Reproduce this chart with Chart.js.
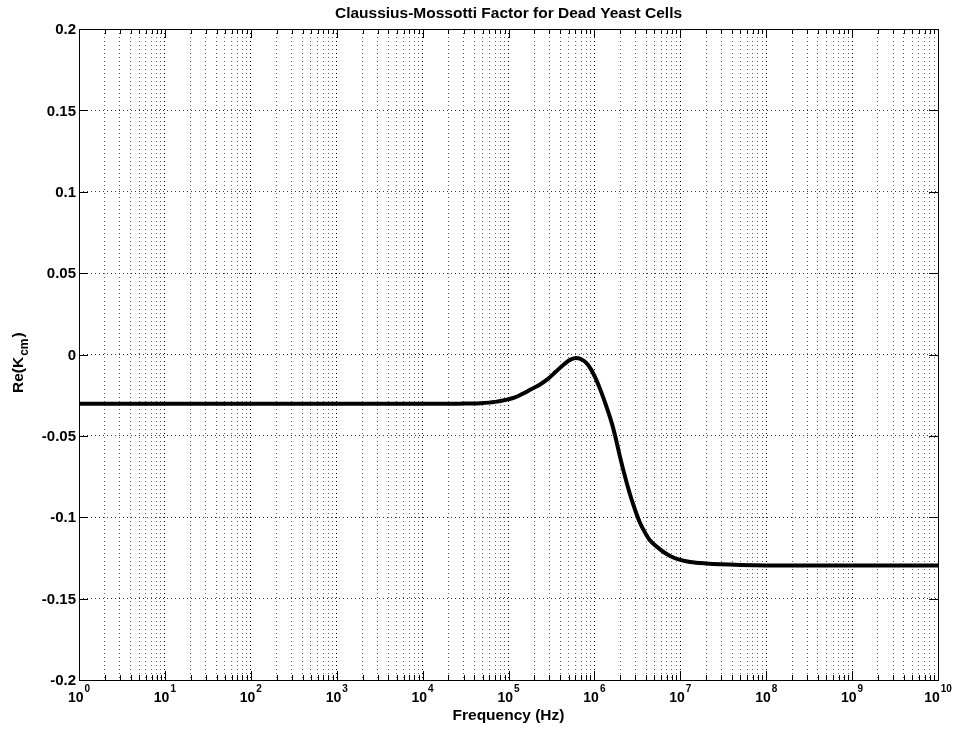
<!DOCTYPE html>
<html>
<head>
<meta charset="utf-8">
<script src="https://cdn.jsdelivr.net/npm/chart.js@4"></script>
<style>
  body { margin: 0; background: #fff; }
  canvas { display: block; }
</style>
</head>
<body>
<canvas id="cmChart" width="956" height="732"></canvas>
<script>
// 数据：频率 (Hz) 与 Re(Kcm)
const freqHz = [1, 1e3, 1e4, 2.7e4, 4.7e4, 7.0e4, 9.6e4, 1.19e5, 1.48e5, 1.88e5, 2.33e5, 2.88e5,
    3.57e5, 4.43e5, 5.34e5, 6.1e5, 7.0e5, 8.0e5, 9.1e5, 1.04e6, 1.19e6, 1.36e6, 1.6e6, 1.8e6,
    2.0e6, 2.3e6, 2.6e6, 3.0e6, 3.4e6, 3.9e6, 4.4e6, 5.8e6, 7.6e6, 1.0e7, 1.3e7, 2.0e7, 5e7,
    1e8, 1e9, 1e10];
const reKcm = [-0.0303, -0.0303, -0.0303, -0.0302, -0.0299, -0.0291, -0.0277, -0.0264, -0.0240,
    -0.0210, -0.0184, -0.0150, -0.0105, -0.0060, -0.0030, -0.0022, -0.0029, -0.0050, -0.0090,
    -0.0150, -0.0225, -0.0310, -0.0425, -0.0530, -0.0635, -0.0760, -0.0860, -0.0960, -0.1035,
    -0.1095, -0.1140, -0.1197, -0.1238, -0.1262, -0.1275, -0.1284, -0.1293, -0.1296, -0.1297,
    -0.1297];

// 刻度
const xDecades = [0, 1, 2, 3, 4, 5, 6, 7, 8, 9, 10];
const xMinorSteps = [1, 2, 3, 4, 5, 6, 7, 8, 9];
const yTicks = [0.2, 0.15, 0.1, 0.05, 0, -0.05, -0.1, -0.15, -0.2];
const yTickLabels = ['0.2', '0.15', '0.1', '0.05', '0', '-0.05', '-0.1', '-0.15', '-0.2'];

const chartTitle = 'Claussius-Mossotti Factor for Dead Yeast Cells';
const xTitle = 'Frequency (Hz)';

const FONT = '"Liberation Sans", Arial, Helvetica, sans-serif';

// x 轴刻度值：每个十倍程的 1..9
const xTickValues = [];
xDecades.forEach(d => {
    if (d === 10) { xTickValues.push(Math.pow(10, d)); return; }
    xMinorSteps.forEach(m => xTickValues.push(m * Math.pow(10, d)));
});
const isDecade = v => Math.abs(Math.log10(v) - Math.round(Math.log10(v))) < 1e-9;

// 边框、内向刻度与文字
const matlabAxes = {
    id: 'matlabAxes',
    afterDraw(chart) {
        const { ctx, chartArea: a, scales } = chart;
        const xs = scales.x, ys = scales.y;
        ctx.save();
        ctx.strokeStyle = '#000';
        ctx.lineWidth = 1;
        ctx.strokeRect(Math.round(a.left) + 0.5, Math.round(a.top) + 0.5,
            Math.round(a.right - a.left), Math.round(a.bottom - a.top));

        ctx.beginPath();
        xTickValues.forEach(v => {
            const px = Math.round(xs.getPixelForValue(v)) + 0.5;
            const len = isDecade(v) ? 9 : 5;
            ctx.moveTo(px, a.bottom); ctx.lineTo(px, a.bottom - len);
            ctx.moveTo(px, a.top); ctx.lineTo(px, a.top + len);
        });
        yTicks.forEach(v => {
            const py = Math.round(ys.getPixelForValue(v)) + 0.5;
            ctx.moveTo(a.left, py); ctx.lineTo(a.left + 9, py);
            ctx.moveTo(a.right, py); ctx.lineTo(a.right - 9, py);
        });
        ctx.stroke();

        ctx.fillStyle = '#000';
        // y 刻度标签
        ctx.font = 'bold 15px ' + FONT;
        ctx.textAlign = 'right';
        ctx.textBaseline = 'middle';
        yTicks.forEach((v, i) => {
            ctx.fillText(yTickLabels[i], a.left - 3, ys.getPixelForValue(v) + 1);
        });

        // x 刻度标签 10^n，整体居中于刻度
        ctx.textBaseline = 'alphabetic';
        ctx.textAlign = 'left';
        xDecades.forEach(d => {
            const px = xs.getPixelForValue(Math.pow(10, d));
            ctx.font = 'bold 14px ' + FONT;
            const wBase = ctx.measureText('10').width;
            ctx.font = 'bold 10px ' + FONT;
            const wExp = ctx.measureText(String(d)).width;
            const x0 = px - (wBase + 1 + wExp) / 2;
            ctx.font = 'bold 14px ' + FONT;
            ctx.fillText('10', x0, a.bottom + 22);
            ctx.font = 'bold 10px ' + FONT;
            ctx.fillText(String(d), x0 + wBase + 1, a.bottom + 12);
        });

        // 标题
        ctx.font = 'bold 15.5px ' + FONT;
        ctx.textAlign = 'center';
        ctx.fillText(chartTitle, (a.left + a.right) / 2, a.top - 11);
        ctx.fillText(xTitle, (a.left + a.right) / 2, a.bottom + 40);

        // y 轴标题 Re(K_cm)
        ctx.translate(a.left - 56, 393);
        ctx.rotate(-Math.PI / 2);
        ctx.textAlign = 'left';
        ctx.font = 'bold 15.5px ' + FONT;
        ctx.fillText('Re(K', 0, 0);
        let w = ctx.measureText('Re(K').width;
        ctx.font = 'bold 12px ' + FONT;
        ctx.fillText('cm', w + 1, 5);
        w += ctx.measureText('cm').width + 2;
        ctx.font = 'bold 15.5px ' + FONT;
        ctx.fillText(')', w, 0);
        ctx.restore();
    }
};

const gridColor = c => (c.tick && isDecade(c.tick.value)) ? '#000' : '#666';

const ctx = document.getElementById('cmChart').getContext('2d');
new Chart(ctx, {
    type: 'line',
    data: {
        datasets: [{
            data: freqHz.map((f, i) => ({ x: f, y: reKcm[i] })),
            borderColor: '#000',
            borderWidth: 4,
            pointRadius: 0,
            cubicInterpolationMode: 'monotone',
            fill: false
        }]
    },
    options: {
        responsive: false,
        animation: false,
        layout: { padding: { left: 79, right: 18, top: 29, bottom: 52 } },
        plugins: {
            legend: { display: false },
            tooltip: { enabled: false }
        },
        scales: {
            x: {
                type: 'logarithmic',
                min: 1,
                max: 1e10,
                afterBuildTicks: axis => { axis.ticks = xTickValues.map(v => ({ value: v })); },
                ticks: { display: false },
                grid: { color: gridColor, lineWidth: 1, drawTicks: false },
                border: { display: false, dash: [1, 3] }
            },
            y: {
                min: -0.2,
                max: 0.2,
                afterBuildTicks: axis => { axis.ticks = yTicks.map(v => ({ value: v })); },
                ticks: { display: false },
                grid: { color: '#333', lineWidth: 1, drawTicks: false },
                border: { display: false, dash: [1, 3] }
            }
        }
    },
    plugins: [matlabAxes]
});
</script>
</body>
</html>
